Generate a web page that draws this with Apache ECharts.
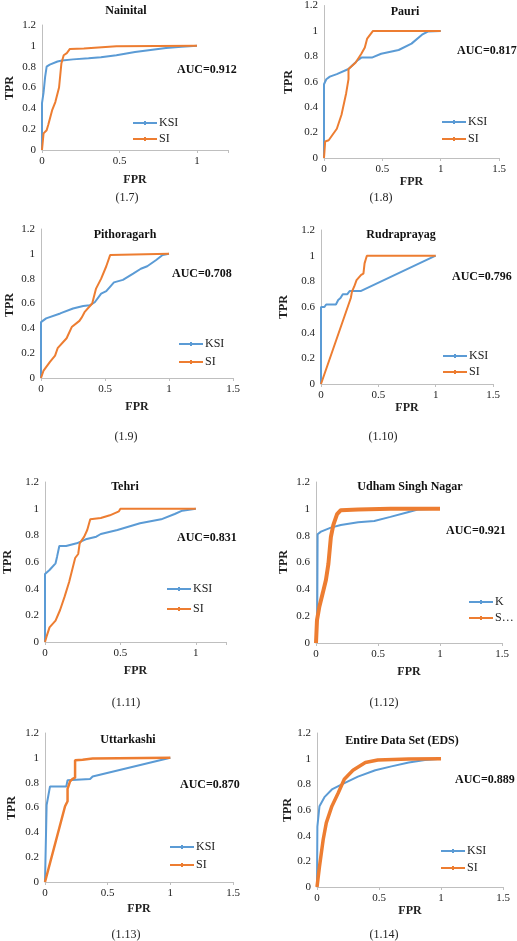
<!DOCTYPE html>
<html><head><meta charset="utf-8">
<script src="https://cdn.jsdelivr.net/npm/echarts@6/dist/echarts.min.js"></script>
<style>html,body{margin:0;padding:0;background:#fff}#c{width:517px;height:941px}</style>
</head><body><div id="c"></div>
<script>
// ---- data (FPR, TPR) ----
const nainitalKSI = [[0,0],[0,0.45],[0.01,0.55],[0.02,0.7],[0.03,0.8],[0.05,0.82],[0.1,0.85],[0.13,0.86],[0.2,0.87],[0.3,0.88],[0.38,0.89],[0.48,0.91],[0.6,0.94],[0.7,0.96],[0.8,0.98],[0.9,0.99],[1,1]];
const nainitalSI = [[0,0],[0.01,0.16],[0.03,0.19],[0.04,0.24],[0.065,0.38],[0.086,0.46],[0.11,0.6],[0.125,0.83],[0.14,0.91],[0.16,0.93],[0.18,0.97],[0.27,0.975],[0.48,0.997],[1,1]];
const pauriKSI = [[0,0],[0,0.58],[0.02,0.62],[0.05,0.64],[0.11,0.66],[0.21,0.7],[0.29,0.77],[0.32,0.79],[0.41,0.79],[0.49,0.82],[0.64,0.85],[0.75,0.9],[0.84,0.97],[0.89,0.995],[1,1]];
const pauriSI = [[0,0],[0.01,0.13],[0.04,0.14],[0.11,0.23],[0.15,0.34],[0.19,0.51],[0.21,0.62],[0.21,0.7],[0.27,0.75],[0.32,0.82],[0.35,0.87],[0.37,0.94],[0.42,1],[1,1]];
const pithoragarhKSI = [[0,0],[0,0.45],[0.04,0.48],[0.15,0.52],[0.25,0.56],[0.33,0.58],[0.38,0.585],[0.42,0.61],[0.47,0.68],[0.51,0.7],[0.57,0.77],[0.64,0.79],[0.72,0.84],[0.78,0.88],[0.83,0.9],[0.9,0.95],[0.95,0.99],[1,1]];
const pithoragarhSI = [[0,0],[0.02,0.06],[0.07,0.13],[0.11,0.18],[0.13,0.24],[0.2,0.32],[0.24,0.41],[0.3,0.46],[0.32,0.49],[0.34,0.53],[0.4,0.6],[0.43,0.72],[0.47,0.8],[0.51,0.9],[0.54,0.99],[0.55,1],[1,1]];
const rudraprayagKSI = [[0,0],[0,0.6],[0.03,0.6],[0.045,0.62],[0.13,0.62],[0.15,0.655],[0.17,0.67],[0.19,0.7],[0.23,0.7],[0.25,0.725],[0.35,0.725],[1,1]];
const rudraprayagSI = [[0,0],[0.26,0.67],[0.27,0.72],[0.29,0.76],[0.31,0.81],[0.32,0.82],[0.35,0.85],[0.37,0.86],[0.38,0.94],[0.39,0.97],[0.4,1],[1,1]];
const tehriKSI = [[0,0],[0,0.51],[0.03,0.54],[0.07,0.59],[0.08,0.64],[0.095,0.72],[0.14,0.72],[0.21,0.74],[0.27,0.77],[0.34,0.79],[0.37,0.81],[0.48,0.84],[0.63,0.89],[0.77,0.92],[0.86,0.96],[0.91,0.985],[1,1]];
const tehriSI = [[0,0],[0.01,0.04],[0.03,0.11],[0.07,0.16],[0.1,0.24],[0.13,0.34],[0.16,0.45],[0.18,0.54],[0.2,0.63],[0.22,0.66],[0.23,0.74],[0.26,0.79],[0.28,0.84],[0.3,0.92],[0.37,0.93],[0.43,0.95],[0.49,0.98],[0.5,1],[1,1]];
const udhamKSI = [[0,0],[0.01,0.22],[0.013,0.81],[0.04,0.83],[0.12,0.86],[0.2,0.88],[0.34,0.9],[0.47,0.91],[0.6,0.94],[0.74,0.975],[0.82,0.995],[1,1]];
const udhamSI = [[0,0],[0.008,0.17],[0.027,0.27],[0.054,0.37],[0.08,0.47],[0.1,0.59],[0.12,0.79],[0.14,0.88],[0.17,0.96],[0.2,0.99],[0.34,0.995],[0.6,1],[1,1]];
const uttarkashiKSI = [[0,0],[0.013,0.62],[0.04,0.77],[0.17,0.77],[0.18,0.82],[0.36,0.83],[0.38,0.85],[1,1]];
const uttarkashiSI = [[0,0],[0.16,0.61],[0.18,0.65],[0.18,0.75],[0.2,0.81],[0.22,0.83],[0.24,0.84],[0.24,0.98],[0.3,0.985],[0.38,0.995],[1,1]];
const edsKSI = [[0,0],[0.003,0.47],[0.02,0.63],[0.06,0.7],[0.12,0.76],[0.2,0.8],[0.33,0.86],[0.47,0.91],[0.6,0.94],[0.74,0.97],[0.87,0.99],[1,1]];
const edsSI = [[0,0],[0.02,0.16],[0.05,0.37],[0.075,0.5],[0.12,0.63],[0.17,0.73],[0.22,0.84],[0.29,0.91],[0.39,0.97],[0.49,0.99],[0.74,0.997],[1,1]];

const titles = ['Nainital','Pauri','Pithoragarh','Rudraprayag','Tehri','Udham Singh Nagar','Uttarkashi','Entire Data Set (EDS)'];
const aucLabels = ['AUC=0.912','AUC=0.817','AUC=0.708','AUC=0.796','AUC=0.831','AUC=0.921','AUC=0.870','AUC=0.889'];
const captions = ['(1.7)','(1.8)','(1.9)','(1.10)','(1.11)','(1.12)','(1.13)','(1.14)'];
const xMaxes = [1.2,1.5,1.5,1.5,1.2,1.5,1.5,1.5];
const ksiSeries = [nainitalKSI,pauriKSI,pithoragarhKSI,rudraprayagKSI,tehriKSI,udhamKSI,uttarkashiKSI,edsKSI];
const siSeries = [nainitalSI,pauriSI,pithoragarhSI,rudraprayagSI,tehriSI,udhamSI,uttarkashiSI,edsSI];

// ---- layout ----
const L = [
  {g:[42,25,186,125], title:[126,11], auc:[177,70], cap:[127,198], tpr:[10,88], fprGap:24, leg:[133,117,4], siW:2},
  {g:[324,5,175,153], title:[405,12], auc:[457,51], cap:[381,198], tpr:[289,82], fprGap:18, leg:[442,116,5], siW:2},
  {g:[41,229,192,149], title:[125,235], auc:[172,274], cap:[126,437], tpr:[10,305], fprGap:23, leg:[179,338,6], siW:2},
  {g:[321,230,172,154], title:[401,235], auc:[452,277], cap:[383,437], tpr:[284,307], fprGap:17, leg:[443,350,4], siW:2},
  {g:[45,482,181,160], title:[125,487], auc:[177,538], cap:[126,703], tpr:[8,562], fprGap:23, leg:[167,583,8], siW:2},
  {g:[316,482,186,161], title:[410,487], auc:[446,531], cap:[384,703], tpr:[284,562], fprGap:23, leg:[469,596,4], siW:4},
  {g:[45,733,188,149], title:[128,740], auc:[180,785], cap:[126,935], tpr:[12,808], fprGap:21, leg:[170,841,6], siW:2.5},
  {g:[317,733,186,154], title:[402,741], auc:[455,780], cap:[384,935], tpr:[288,810], fprGap:16, leg:[441,845,5], siW:3.5}
];

const FONT = '"Liberation Serif","Times New Roman",serif';
const BLUE = '#5B9BD5', ORANGE = '#ED7D31';
const LEG_ICON = 'path://M0,4h24v2h-24z M11,3h2v4h-2z';
const grid=[], xAxis=[], yAxis=[], series=[], legend=[], graphic=[];
L.forEach((p,i)=>{
  grid.push({left:p.g[0], top:p.g[1], width:p.g[2], height:p.g[3], containLabel:false});
  xAxis.push({type:'value', gridIndex:i, min:0, max:xMaxes[i], interval:0.5,
    splitLine:{show:false},
    axisLine:{show:true, lineStyle:{color:'#bfbfbf', width:1}},
    axisTick:{show:true, length:3, lineStyle:{color:'#bfbfbf'}},
    axisLabel:{color:'#222', fontFamily:FONT, fontSize:11, margin:6,
      formatter:v=>(Math.abs(v*2-Math.round(v*2))<1e-9 ? String(Math.round(v*10)/10) : '')},
    name:'FPR', nameLocation:'middle', nameGap:p.fprGap,
    nameTextStyle:{fontFamily:FONT, fontWeight:'bold', fontSize:12, color:'#222'}});
  yAxis.push({type:'value', gridIndex:i, min:0, max:1.2, interval:0.2,
    splitLine:{show:false},
    axisLine:{show:true, lineStyle:{color:'#bfbfbf', width:1}},
    axisTick:{show:false},
    axisLabel:{color:'#222', fontFamily:FONT, fontSize:11, margin:6}});
  series.push({name:'KSI', type:'line', xAxisIndex:i, yAxisIndex:i, data:ksiSeries[i],
    symbol:'none', lineStyle:{color:BLUE, width:2}, itemStyle:{color:BLUE}, z:2});
  series.push({name:'SI', type:'line', xAxisIndex:i, yAxisIndex:i, data:siSeries[i],
    symbol:'none', lineStyle:{color:ORANGE, width:p.siW}, itemStyle:{color:ORANGE}, z:3});
  const lg = {data:[{name:'KSI', icon:LEG_ICON},{name:'SI', icon:LEG_ICON}], orient:'vertical', left:p.leg[0], top:p.leg[1],
    itemWidth:24, itemHeight:10, itemGap:p.leg[2], padding:0, selectedMode:false,
    textStyle:{fontFamily:FONT, fontSize:12, color:'#222', padding:[0,0,0,-3]}};
  if (i===5) lg.formatter = n => (n==='KSI' ? 'K' : 'S…');
  legend.push(lg);
  graphic.push({type:'text', x:p.title[0], y:p.title[1], style:{text:titles[i], font:'bold 12px '+FONT, fill:'#111', align:'center', verticalAlign:'middle'}});
  graphic.push({type:'text', x:p.auc[0], y:p.auc[1], style:{text:aucLabels[i], font:'bold 12px '+FONT, fill:'#111', align:'left', verticalAlign:'middle'}});
  graphic.push({type:'text', x:p.cap[0], y:p.cap[1], style:{text:captions[i], font:'12px '+FONT, fill:'#222', align:'center', verticalAlign:'middle'}});
  graphic.push({type:'text', x:p.tpr[0], y:p.tpr[1], rotation:Math.PI/2, style:{text:'TPR', font:'bold 12px '+FONT, fill:'#222', align:'center', verticalAlign:'middle'}});
});

const chart = echarts.init(document.getElementById('c'), null, {renderer:'canvas'});
chart.setOption({animation:false, backgroundColor:'#fff', grid, xAxis, yAxis, series, legend, graphic});
</script></body></html>
